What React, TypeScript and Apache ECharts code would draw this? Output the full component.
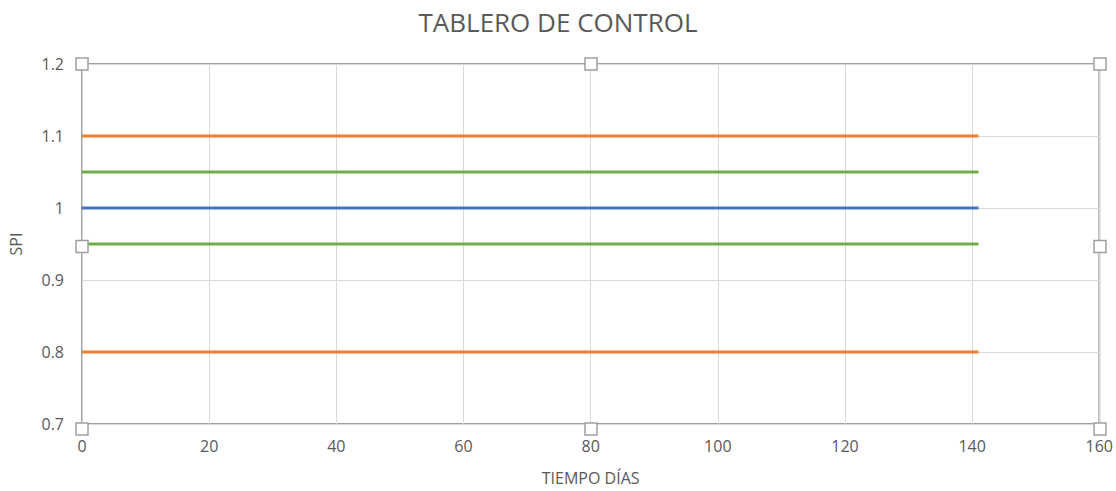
import React, { useEffect, useRef } from "react";
import * as echarts from "echarts";

const days = [0, 141];
const upperLimit = [1.1, 1.1];
const upperWarn = [1.05, 1.05];
const target = [1, 1];
const lowerWarn = [0.95, 0.95];
const lowerLimit = [0.8, 0.8];

const xTicks = [0, 20, 40, 60, 80, 100, 120, 140, 160];
const yTicks = [0.7, 0.8, 0.9, 1, 1.1, 1.2];

const W = 1116;
const H = 491;
const G = { left: 82, right: 16, top: 64, bottom: 62 };

const FONT = "'Open Sans', 'Liberation Sans', sans-serif";
const TXT = "#595959";

function pairs(xs: number[], ys: number[]) {
  return xs.map((x, i) => [x, ys[i]]);
}

export default function App() {
  const ref = useRef<HTMLDivElement>(null);
  useEffect(() => {
    if (!ref.current) return;
    const chart = echarts.init(ref.current, undefined, { renderer: "svg" });
    const cw = chart.getWidth();
    const ch = chart.getHeight();
    const x0 = G.left;
    const x1 = cw - G.right;
    const y0 = G.top;
    const y1 = ch - G.bottom;
    const xm = (x0 + x1) / 2;
    const ym = (y0 + y1) / 2;
    const hs = 12;
    const handlePts = [
      [x0, y0], [xm, y0], [x1, y0],
      [x0, ym], [x1, ym],
      [x0, y1], [xm, y1], [x1, y1],
    ];
    const line = (name: string, ys: number[], color: string) => ({
      name,
      type: "line",
      data: pairs(days, ys),
      showSymbol: false,
      symbol: "none",
      lineStyle: { color, width: 3 },
      z: 3,
    });
    chart.setOption({
      animation: false,
      backgroundColor: "#ffffff",
      title: {
        text: "TABLERO DE CONTROL",
        left: "center",
        top: 4,
        textStyle: { fontFamily: FONT, fontSize: 26, fontWeight: "normal", color: TXT },
      },
      grid: {
        left: G.left,
        right: G.right,
        top: G.top,
        bottom: G.bottom,
        show: true,
        borderColor: "#a0a0a0",
        borderWidth: 2,
        containLabel: false,
      },
      xAxis: {
        type: "value",
        min: xTicks[0],
        max: xTicks[xTicks.length - 1],
        interval: 20,
        name: "TIEMPO DÍAS",
        nameLocation: "middle",
        nameGap: 46,
        nameTextStyle: { fontFamily: FONT, fontSize: 16, color: TXT },
        axisLine: { show: false },
        axisTick: { show: false },
        axisLabel: { fontFamily: FONT, fontSize: 16, color: TXT, margin: 14 },
        splitLine: { show: true, lineStyle: { color: "#d9d9d9", width: 1 } },
      },
      yAxis: {
        type: "value",
        min: yTicks[0],
        max: yTicks[yTicks.length - 1],
        interval: 0.1,
        name: "SPI",
        nameLocation: "middle",
        nameGap: 58,
        nameTextStyle: { fontFamily: FONT, fontSize: 16, color: TXT },
        axisLine: { show: false },
        axisTick: { show: false },
        axisLabel: {
          fontFamily: FONT,
          fontSize: 16,
          color: TXT,
          margin: 18,
          formatter: (v: number) => String(parseFloat(v.toFixed(2))),
        },
        splitLine: { show: true, lineStyle: { color: "#d9d9d9", width: 1 } },
      },
      series: [
        line("Límite superior", upperLimit, "#ED7D31"),
        line("Alerta superior", upperWarn, "#70AD47"),
        line("SPI", target, "#4472C4"),
        line("Alerta inferior", lowerWarn, "#70AD47"),
        line("Límite inferior", lowerLimit, "#ED7D31"),
      ],
      graphic: handlePts.map(([x, y]) => ({
        type: "rect",
        shape: { x: x - hs / 2, y: y - hs / 2, width: hs, height: hs },
        style: { fill: "#ffffff", stroke: "#a0a0a0", lineWidth: 1.5 },
        z: 100,
      })),
    });
    return () => chart.dispose();
  }, []);
  return (
    <div
      ref={ref}
      style={{ position: "absolute", left: 0, top: 0, width: W, height: H }}
    />
  );
}
